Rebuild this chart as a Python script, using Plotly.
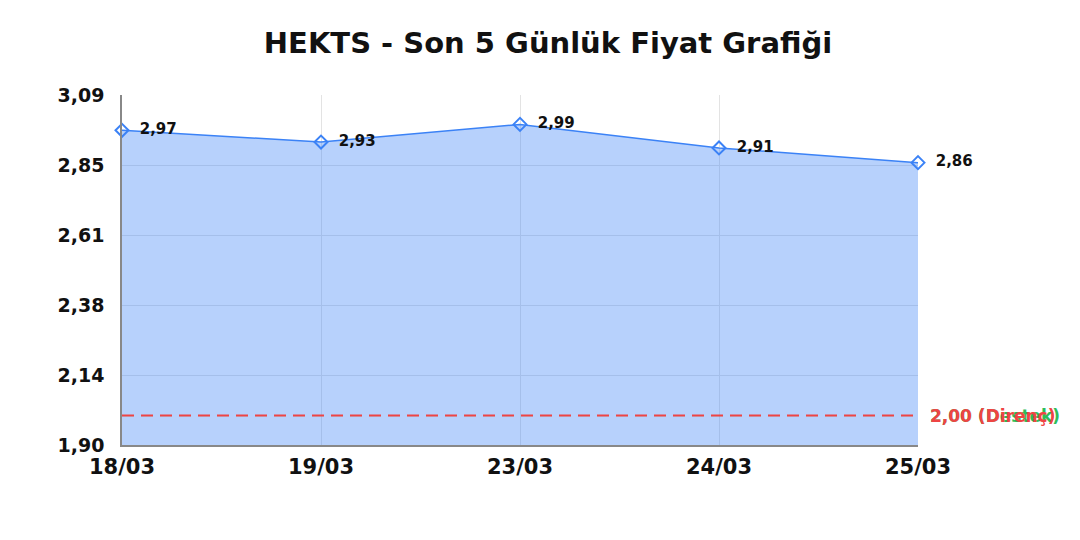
import plotly.graph_objects as go

# data
dates = ["18/03", "19/03", "23/03", "24/03", "25/03"]
prices = [2.97, 2.93, 2.99, 2.91, 2.86]
support_level = 2.00
resistance_level = 2.00
y_ticks = [1.90, 2.138, 2.376, 2.614, 2.852, 3.09]
y_tick_labels = ["1,90", "2,14", "2,38", "2,61", "2,85", "3,09"]

fmt = lambda v: f"{v:.2f}".replace(".", ",")

fig = go.Figure()

fig.add_trace(go.Scatter(
    x=dates, y=prices,
    mode="lines+markers+text",
    fill="tozeroy",
    fillcolor="rgba(59,130,246,0.37)",
    line=dict(color="#3b82f6", width=1.5),
    marker=dict(symbol="diamond-open", size=10, color="#3b82f6", line=dict(width=2)),
    text=["\u00a0\u00a0" + fmt(p) for p in prices],
    textposition="middle right",
    textfont=dict(family="DejaVu Sans", size=15, color="#111111", weight="bold"),
    cliponaxis=False,
    hoverinfo="x+y",
))

# support / resistance lines (green first, red on top)
for level, name, color, lw in [(support_level, "Destek", "#2ebd5a", 1.0),
                               (resistance_level, "Direnç", "#ef4444", 2.0)]:
    fig.add_trace(go.Scatter(
        x=[dates[0], dates[-1]], y=[level, level],
        mode="lines",
        line=dict(color=color, width=lw, dash="12px,7px"),
        hoverinfo="skip",
    ))
    fig.add_annotation(
        x=1, xref="paper", y=level, yref="y",
        text=f"{fmt(level)} ({name})",
        showarrow=False, xanchor="left", xshift=10,
        font=dict(family="DejaVu Sans", size=17, color=color, weight="bold"),
    )

fig.update_layout(
    width=1080, height=540,
    title=dict(text="HEKTS - Son 5 Günlük Fiyat Grafiği", x=0.5, y=0.935,
               xanchor="center", yanchor="middle",
               font=dict(family="DejaVu Sans", size=29, color="#111111", weight="bold")),
    showlegend=False,
    plot_bgcolor="white", paper_bgcolor="white",
    margin=dict(l=114, r=170, t=87, b=103),
    font=dict(family="DejaVu Sans", color="#111111"),
)
fig.update_xaxes(
    type="category", range=[0, len(dates) - 1],
    showgrid=True, gridcolor="#e3e3e3",
    showline=True, linecolor="#888888", linewidth=1.5,
    ticks="", tickfont=dict(size=21, weight="bold"),
    automargin=False, ticklabelstandoff=2,
)
fig.update_yaxes(
    range=[1.90, 3.09],
    tickvals=y_ticks, ticktext=y_tick_labels,
    showgrid=True, gridcolor="#e3e3e3",
    showline=True, linecolor="#888888", linewidth=1.5,
    zeroline=False, ticks="", tickfont=dict(size=19, weight="bold"),
    automargin=False, ticklabelstandoff=12,
)

fig.write_html("out.html")
